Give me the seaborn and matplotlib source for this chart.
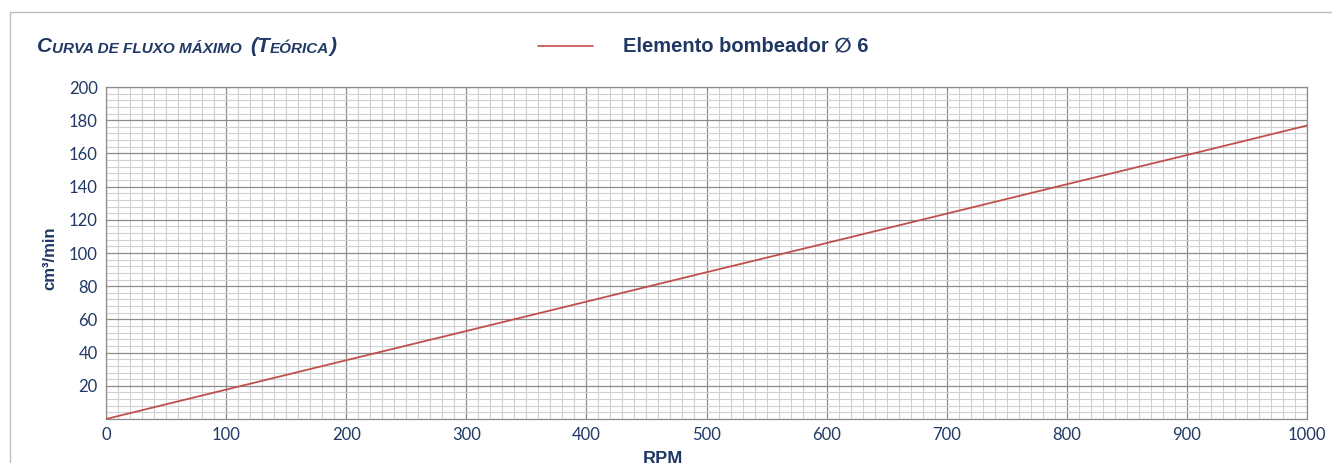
import matplotlib
matplotlib.use("Agg")
import matplotlib.pyplot as plt
import seaborn as sns
import pandas as pd
from matplotlib.ticker import MultipleLocator, FixedLocator
from matplotlib.lines import Line2D
from matplotlib.patches import Rectangle

rpm = [0, 100, 200, 300, 400, 500, 600, 700, 800, 900, 1000]
flow = [0, 17.7, 35.4, 53.0, 70.7, 88.4, 106.0, 123.7, 141.4, 159.0, 176.8]
x_ticks = [0, 100, 200, 300, 400, 500, 600, 700, 800, 900, 1000]
y_ticks = [20, 40, 60, 80, 100, 120, 140, 160, 180, 200]
series_label = "Elemento bombeador \u2205 6"
x_label = "RPM"
y_label = "cm\u00b3/min"

NAVY = "#1F3864"
RED = "#C0504D"
BOLDFONT = ["Liberation Sans", "DejaVu Sans"]

sns.set_style("white")
plt.rcParams["font.family"] = ["Lato", "DejaVu Sans"]

fig = plt.figure(figsize=(13.32, 4.63), dpi=100)
W, H = 1332, 463

# outer chart border (light gray)
fig.add_artist(Rectangle((10 / W, -0.1), 1.2, 1 - 12 / H + 0.1, transform=fig.transFigure,
                         fill=False, edgecolor="#BFBFBF", linewidth=1.0))

ax = fig.add_axes([106 / W, 1 - 419 / H, (1307 - 106) / W, (419 - 87) / H])
df = pd.DataFrame({"rpm": rpm, "flow": flow})
sns.lineplot(data=df, x="rpm", y="flow", ax=ax, color=RED, linewidth=1.3, zorder=5)

ax.set_xlim(0, 1000)
ax.set_ylim(0, 200)
ax.xaxis.set_major_locator(FixedLocator(x_ticks))
ax.yaxis.set_major_locator(FixedLocator(y_ticks))
ax.xaxis.set_minor_locator(MultipleLocator(10))
ax.yaxis.set_minor_locator(MultipleLocator(4))
ax.grid(which="minor", color="#D0D0D0", linewidth=0.8)
ax.grid(which="major", color="#8C8C8C", linewidth=0.9)
ax.set_axisbelow(True)
ax.tick_params(axis="both", which="major", length=5, width=0.8, color="#8C8C8C",
               labelcolor=NAVY, labelsize=12, pad=1, direction="out")
ax.tick_params(axis="both", which="minor", length=0)
ax.tick_params(axis="x", pad=0.5)
for s in ax.spines.values():
    s.set_color("#8C8C8C")
    s.set_linewidth(0.9)
ax.set_xlabel("")
ax.set_ylabel("")

fig.text(50 / W, 1 - 258 / H, y_label, rotation=90, ha="center", va="center",
         color=NAVY, fontsize=12, fontweight="bold", family=BOLDFONT)
fig.text(663 / W, 1 - 451 / H, x_label, ha="center", va="top",
         color=NAVY, fontsize=13, fontweight="bold", family=BOLDFONT)

# title in simulated small caps, bold italic
parts = [("C", 15), ("URVA DE FLUXO MÁXIMO  ", 11), ("(T", 15), ("EÓRICA", 11), (")", 15)]
prev = None
for txt, sz in parts:
    kw = dict(color=NAVY, fontsize=sz, fontweight="bold", fontstyle="italic",
              family=BOLDFONT)
    if prev is None:
        prev = fig.text(37 / W, 1 - 52 / H, txt, ha="left", va="baseline", **kw)
    else:
        prev = ax.annotate(txt, xy=(1, 0), xycoords=prev, ha="left", va="bottom",
                           annotation_clip=False, **kw)

# legend
fig.add_artist(Line2D([538 / W, 593 / W], [1 - 46 / H, 1 - 46 / H], color=RED,
                      linewidth=1.2, transform=fig.transFigure))
fig.text(623 / W, 1 - 46 / H, series_label, ha="left", va="center", color=NAVY,
         fontsize=14.5, fontweight="bold", family=BOLDFONT)

fig.savefig("out.png", dpi=100)
